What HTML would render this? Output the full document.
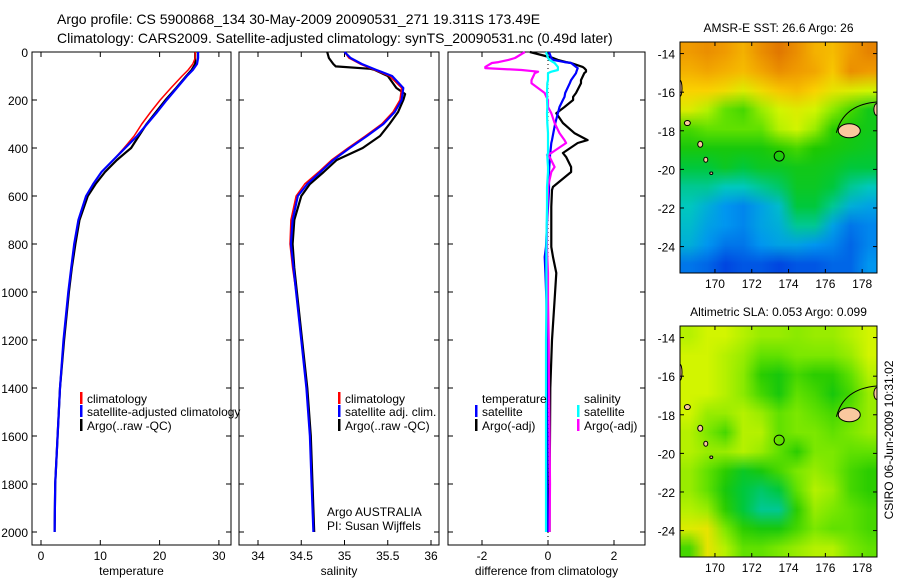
<!DOCTYPE html>
<html><head><meta charset="utf-8">
<style>
html,body{margin:0;padding:0;background:#fff;}
body{width:900px;height:580px;overflow:hidden;position:relative;font-family:"Liberation Sans",sans-serif;}
svg{position:absolute;left:0;top:0;}
canvas{position:absolute;}
text{font-family:"Liberation Sans",sans-serif;}
</style></head>
<body>
<canvas id="sstc" width="11" height="12" style="left:680px;top:42px;width:197px;height:231px;"></canvas>
<canvas id="slac" width="11" height="12" style="left:680px;top:326px;width:197px;height:231px;"></canvas>
<svg id="chart" width="900" height="580" viewBox="0 0 900 580" xmlns="http://www.w3.org/2000/svg"></svg>
<script>
// ---------------- data ----------------
const depths = [0,25,50,75,100,150,200,250,300,350,400,450,500,550,600,700,800,900,1000,1200,1400,1600,1800,2000];
const tempClim = [26.0,26.0,25.6,24.8,23.8,21.9,20.1,18.5,17.0,15.7,14.0,12.2,10.2,8.8,7.6,6.3,5.6,5.1,4.6,3.8,3.2,2.8,2.4,2.3];
const tempSat  = [26.5,26.5,26.3,25.6,24.6,22.9,21.2,19.6,17.9,16.2,14.2,12.2,10.2,8.8,7.6,6.3,5.6,5.1,4.6,3.8,3.2,2.8,2.4,2.3];
const tempArgo = [26.0,26.0,26.0,25.4,24.5,22.8,21.0,19.4,17.8,16.5,15.2,12.8,10.8,9.2,7.9,6.5,5.8,5.2,4.7,3.9,3.2,2.8,2.4,2.3];
const salClim = [35.0,35.05,35.18,35.35,35.52,35.66,35.64,35.56,35.43,35.24,35.04,34.85,34.70,34.54,34.44,34.38,34.37,34.40,34.44,34.50,34.56,34.60,34.62,34.64];
const salSat  = [35.0,35.07,35.2,35.37,35.55,35.68,35.66,35.58,35.45,35.26,35.06,34.87,34.72,34.57,34.46,34.40,34.38,34.41,34.44,34.50,34.56,34.60,34.62,34.64];
const salArgoDepths = [0,25,50,60,70,75,100,125,150,175,200,250,300,350,400,450,500,550,600,700,800,900,1000,1200,1400,1600,1800,2000];
const salArgo = [34.8,34.82,34.87,34.9,35.3,35.35,35.5,35.55,35.6,35.7,35.68,35.62,35.52,35.41,35.21,34.91,34.76,34.60,34.50,34.42,34.40,34.42,34.45,34.51,34.57,34.61,34.63,34.65];
const diffDepths = [0,25,33,42,46,62,67,75,82,88,117,130,171,187,200,229,255,296,338,367,379,421,429,437,479,500,562,575,645,712,812,854,921,1033,1200,1400,1600,1800,2000];
const dTempSat  = [0.03,0.1,0.16,0.5,0.7,0.85,0.9,0.88,0.86,0.85,0.7,0.66,0.52,0.5,0.45,0.35,0.3,0.22,0.16,0.12,0.1,0.07,0.06,0.06,0.04,0.03,0.03,0.03,0.0,-0.03,-0.06,-0.1,-0.08,-0.05,-0.03,-0.03,-0.02,-0.02,0.0];
const dTempArgo = [-0.55,0.15,0.3,0.55,0.7,1.05,1.1,1.15,1.15,1.1,1.0,1.0,0.85,0.76,0.76,0.5,0.25,0.45,0.8,1.2,0.9,0.45,0.5,0.55,0.7,0.7,0.15,0.12,0.1,0.1,0.1,0.15,0.25,0.2,0.12,0.07,0.06,0.05,0.05];
const dSalArgo  = [-0.7,-1.0,-1.2,-1.5,-1.7,-1.9,-1.9,-0.8,-0.3,-0.4,-0.5,-0.5,-0.1,-0.05,0.0,0.0,0.1,0.2,0.35,0.5,0.55,0.1,-0.03,0.05,0.2,0.1,0.0,0.0,-0.02,-0.03,-0.03,-0.02,0.0,0.0,0.02,0.03,0.05,0.06,0.05];
const dSalSat   = [-0.06,0.0,0.05,0.15,0.2,0.3,0.3,0.3,0.1,0.0,0.0,-0.02,-0.03,-0.02,-0.03,-0.02,-0.03,-0.02,0.0,0.0,0.0,0.0,-0.02,-0.02,0.0,0.0,-0.03,-0.03,-0.03,-0.04,-0.05,-0.05,-0.05,-0.05,-0.06,-0.06,-0.06,-0.06,-0.06];
const depthTicks = [0,200,400,600,800,1000,1200,1400,1600,1800,2000];
const tempTicks = [0,10,20,30];
const salTicks = [34,34.5,35,35.5,36];
const diffTicks = [-2,0,2];
const latTicks = [14,16,18,20,22,24];
const lonTicks = [170,172,174,176,178];
const sstGrid = [
[.78,.80,.78,.74,.80,.84,.80,.74,.72,.78,.82],
[.74,.76,.74,.72,.76,.80,.78,.76,.70,.80,.78],
[.68,.68,.66,.62,.66,.70,.72,.68,.64,.62,.60],
[.62,.58,.52,.50,.56,.60,.62,.60,.55,.50,.45],
[.50,.52,.52,.52,.52,.58,.60,.56,.48,.46,.45],
[.46,.46,.46,.46,.46,.48,.50,.47,.46,.45,.44],
[.42,.42,.44,.42,.44,.44,.45,.45,.44,.42,.42],
[.38,.38,.36,.36,.38,.40,.44,.44,.42,.38,.36],
[.36,.32,.28,.26,.30,.34,.42,.42,.38,.32,.30],
[.34,.30,.28,.26,.30,.32,.38,.38,.30,.24,.26],
[.32,.28,.24,.24,.28,.30,.30,.28,.26,.22,.26],
[.24,.22,.18,.20,.20,.18,.20,.20,.22,.22,.28]];
const slaGrid = [
[.58,.60,.60,.58,.56,.56,.55,.56,.56,.58,.60],
[.60,.60,.58,.56,.52,.52,.54,.54,.54,.56,.60],
[.60,.60,.58,.55,.48,.46,.50,.48,.48,.52,.58],
[.60,.60,.58,.55,.50,.46,.52,.50,.46,.50,.56],
[.60,.56,.56,.58,.56,.52,.54,.52,.50,.52,.56],
[.58,.54,.50,.58,.58,.52,.54,.54,.52,.54,.56],
[.58,.56,.56,.58,.56,.52,.48,.54,.54,.52,.52],
[.56,.52,.48,.44,.46,.50,.54,.56,.54,.50,.48],
[.56,.52,.46,.42,.40,.42,.52,.58,.56,.50,.48],
[.58,.56,.48,.42,.38,.38,.48,.56,.54,.52,.50],
[.62,.64,.54,.48,.46,.46,.50,.54,.52,.52,.50],
[.50,.64,.58,.52,.52,.54,.56,.58,.58,.54,.52]];

// ---------------- helpers ----------------
const NS="http://www.w3.org/2000/svg";
const svg=document.getElementById('chart');
function mk(tag,attrs,parent){const e=document.createElementNS(NS,tag);for(const k in attrs)e.setAttribute(k,attrs[k]);(parent||svg).appendChild(e);return e;}
function txt(x,y,s,anchor,size,parent){const t=mk('text',{x:x,y:y,'font-size':size||12,'text-anchor':anchor||'start',fill:'#000'},parent);t.textContent=s;return t;}

const TOP=52, BOT=545;
const yD = d => TOP + d*0.24;
const panels = [
 {x0:32,x1:231,fx:v=>41+v*5.93,ticks:tempTicks,label:'temperature',name:'temperature-panel'},
 {x0:239,x1:439,fx:v=>258+(v-34)*86.5,ticks:salTicks,label:'salinity',name:'salinity-panel'},
 {x0:448,x1:645,fx:v=>548+v*33,ticks:diffTicks,label:'difference from climatology',name:'difference-panel'}
];

let t1=txt(57,24,'Argo profile: CS 5900868_134 30-May-2009 20090531_271 19.311S 173.49E','start',14);

let t2=txt(57,43,'Climatology: CARS2009. Satellite-adjusted climatology: synTS_20090531.nc (0.49d later)','start',14);


panels.forEach((p,pi)=>{
  const g=mk('g',{});
  
  
  mk('rect',{x:p.x0,y:TOP,width:p.x1-p.x0,height:BOT-TOP,fill:'#fff',stroke:'#000','stroke-width':1},g);
  depthTicks.forEach(d=>{
    const y=yD(d);
    mk('line',{x1:p.x0,x2:p.x0+5,y1:y,y2:y,stroke:'#000'},g);
    mk('line',{x1:p.x1,x2:p.x1-5,y1:y,y2:y,stroke:'#000'},g);
    if(pi===0){const l=txt(p.x0-4,y+5,String(d),'end',12,g);}
  });
  p.ticks.forEach(v=>{
    const x=p.fx(v);
    mk('line',{x1:x,x2:x,y1:TOP,y2:TOP+5,stroke:'#000'},g);
    mk('line',{x1:x,x2:x,y1:BOT,y2:BOT-5,stroke:'#000'},g);
    const l=txt(x,BOT+15,String(v),'middle',12,g);
    
    
  });
  const xl=txt((p.x0+p.x1)/2,BOT+30,p.label,'middle',12,g);
  
  
});

function series(pi,ds,vals,color,w,name){
  const p=panels[pi];
  const pts=ds.map((d,i)=>p.fx(vals[i]).toFixed(1)+','+yD(d).toFixed(1)).join(' ');
  const e=mk('polyline',{points:pts,fill:'none',stroke:color,'stroke-width':w,'stroke-linejoin':'round'});
  
  
}
const zl=mk('line',{x1:panels[2].fx(0),x2:panels[2].fx(0),y1:TOP,y2:BOT,stroke:'#000','stroke-dasharray':'1,3','stroke-width':1});



series(0,depths,tempArgo,'#000',2.2,'temp-argo-line');
series(0,depths,tempClim,'#f00',1.5,'temp-climatology-line');
series(0,depths,tempSat,'#00f',2.2,'temp-satellite-line');
series(1,salArgoDepths,salArgo,'#000',2.2,'sal-argo-line');
series(1,depths,salClim,'#f00',1.5,'sal-climatology-line');
series(1,depths,salSat,'#00f',2.2,'sal-satellite-line');
series(2,diffDepths,dTempArgo,'#000',2.2,'temp-argo-diff-line');
series(2,diffDepths,dTempSat,'#00f',2.2,'temp-satellite-diff-line');
series(2,diffDepths,dSalArgo,'#f0f',2.2,'sal-argo-diff-line');
series(2,diffDepths,dSalSat,'#0ff',2.2,'sal-satellite-diff-line');

function legend(x,y,color,label,name){
  const g=mk('g',{});
  
  
  if(color) mk('rect',{x:x,y:y-11,width:2.5,height:12,fill:color},g);
  txt(x+7,y,label,'start',12,g);
}
legend(80,403,'#f00','climatology','legend-climatology');
legend(80,416,'#00f','satellite-adjusted climatology','legend-satellite-adjusted');
legend(80,430,'#000','Argo(..raw -QC)','legend-argo');
legend(338,403,'#f00','climatology','legend-sal-climatology');
legend(338,416,'#00f','satellite adj. clim.','legend-sal-satellite');
legend(338,430,'#000','Argo(..raw -QC)','legend-sal-argo');
legend(475,403,null,'temperature','legend-temperature-heading');
legend(475,416,'#00f','satellite','legend-temp-satellite');
legend(475,430,'#000','Argo(-adj)','legend-temp-argo');
legend(577,403,null,'salinity','legend-salinity-heading');
legend(577,416,'#0ff','satellite','legend-sal-satellite-diff');
legend(577,430,'#f0f','Argo(-adj)','legend-sal-argo-diff');
let a1=txt(327,516,'Argo AUSTRALIA','start',12);
let a2=txt(327,530,'PI: Susan Wijffels','start',12);

// ---------------- maps ----------------
const stops=[[0,[0,0,140]],[0.18,[0,70,225]],[0.28,[0,150,240]],[0.36,[0,200,190]],[0.42,[0,200,60]],[0.47,[30,200,0]],[0.53,[110,230,0]],[0.6,[210,245,0]],[0.68,[250,210,0]],[0.78,[240,155,0]],[0.88,[215,95,0]],[1,[160,20,0]]];
function cmap(v){for(let i=1;i<stops.length;i++){if(v<=stops[i][0]){const a=stops[i-1],b=stops[i];const t=(v-a[0])/(b[0]-a[0]);return a[1].map((c,k)=>Math.round(c+(b[1][k]-c)*t));}}return stops[stops.length-1][1];}
function paint(id,grid){const c=document.getElementById(id),ctx=c.getContext('2d');const im=ctx.createImageData(11,12);grid.forEach((row,r)=>row.forEach((v,k)=>{const col=cmap(v);const o=(r*11+k)*4;im.data[o]=col[0];im.data[o+1]=col[1];im.data[o+2]=col[2];im.data[o+3]=255;}));ctx.putImageData(im,0,0);}
paint('sstc',sstGrid);paint('slac',slaGrid);

const maps=[{y0:42,title:'AMSR-E SST: 26.6 Argo: 26',name:'sst-map'},{y0:326,title:'Altimetric SLA: 0.053 Argo: 0.099',name:'sla-map'}];
const MX0=680,MX1=877,MW=197,MH=231;
const defs=mk('defs',{});
maps.forEach((m,mi)=>{
  const lonX=l=>MX0+(l-168.1)*18.4;
  const latY=l=>m.y0+(l-13.4)*19.3;
  const cp=mk('clipPath',{id:'mclip'+mi},defs);
  mk('rect',{x:MX0,y:m.y0,width:MW,height:MH},cp);
  const g=mk('g',{});
  
  
  const gi=mk('g',{'clip-path':'url(#mclip'+mi+')'},g);
  // islands: lon, lat, rx px, ry px
  const isl=[[177.3,18.0,11,7],[178.8,16.9,3,6],[168.1,15.8,2,8],[168.5,17.6,3,2.5],[169.2,18.7,2.5,3],[169.5,19.5,2,2.5],[169.8,20.2,1.5,1.2]];
  isl.forEach(s=>{mk('ellipse',{cx:lonX(s[0]),cy:latY(s[1]),rx:s[2],ry:s[3],fill:'#fac89e',stroke:'#000','stroke-width':1},gi);});
  mk('path',{d:`M${lonX(176.6)} ${latY(18.1)} Q${lonX(177.0)} ${latY(16.6)} ${lonX(178.9)} ${latY(16.5)}`,fill:'none',stroke:'#000','stroke-width':1},gi);
  const mk1=mk('circle',{cx:lonX(173.49),cy:latY(19.311),r:5,fill:'none',stroke:'#000','stroke-width':1},g);
  
  
  mk('rect',{x:MX0,y:m.y0,width:MW,height:MH,fill:'none',stroke:'#000','stroke-width':1},g);
  latTicks.forEach(l=>{const y=latY(l);mk('line',{x1:MX0,x2:MX0+4,y1:y,y2:y,stroke:'#000'},g);mk('line',{x1:MX1,x2:MX1-4,y1:y,y2:y,stroke:'#000'},g);
    const tl=txt(MX0-5,y+5,'-'+l,'end',12,g);});
  lonTicks.forEach(l=>{const x=lonX(l);mk('line',{x1:x,x2:x,y1:m.y0,y2:m.y0+4,stroke:'#000'},g);mk('line',{x1:x,x2:x,y1:m.y0+MH,y2:m.y0+MH-4,stroke:'#000'},g);
    const tl=txt(x,m.y0+MH+15,String(l),'middle',12,g);});
  const tt=txt((MX0+MX1)/2,m.y0-10,m.title,'middle',12,g);
  
  
});
const stamp=txt(0,0,'CSIRO 06-Jun-2009 10:31:02','middle',12);
stamp.setAttribute('transform','translate(893,440) rotate(-90)');


</script>
</body></html>
